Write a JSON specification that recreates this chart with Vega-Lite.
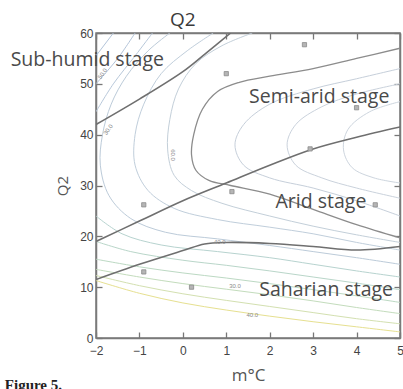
{
  "$schema": "https://vega.github.io/schema/vega-lite/v6.json",
  "width": 304,
  "height": 305,
  "autosize": {"type": "none"},
  "padding": {"left": 96, "top": 33, "right": 3, "bottom": 51},
  "background": "white",
  "config": {"view": {"stroke": "#7a7a7a", "strokeWidth": 1.5}, "font": "Liberation Sans"},
  "datasets": {
    "contours": [
      {"id":"U1","k":1,"x":-2,"y":55.5},{"id":"U1","k":2,"x":-1.6,"y":60},
      {"id":"U2","k":1,"x":-2,"y":50},{"id":"U2","k":2,"x":-1.5,"y":55},{"id":"U2","k":3,"x":-1.1,"y":60},
      {"id":"W4a","k":1,"x":-2,"y":44.5},{"id":"W4a","k":2,"x":-1.6,"y":50},{"id":"W4a","k":3,"x":-1.1,"y":55.5},{"id":"W4a","k":4,"x":-0.7,"y":60},
      {"id":"W3","k":1,"x":-0.3,"y":60},{"id":"W3","k":2,"x":-0.8,"y":56.5},{"id":"W3","k":3,"x":-1.3,"y":51.5},{"id":"W3","k":4,"x":-1.65,"y":46},{"id":"W3","k":5,"x":-1.85,"y":40},{"id":"W3","k":6,"x":-1.9,"y":34},{"id":"W3","k":7,"x":-1.7,"y":28},{"id":"W3","k":8,"x":-1.2,"y":23.5},{"id":"W3","k":9,"x":-0.4,"y":20.8},{"id":"W3","k":10,"x":0.8,"y":19.5},{"id":"W3","k":11,"x":2,"y":18.2},{"id":"W3","k":12,"x":3,"y":17},{"id":"W3","k":13,"x":4,"y":15.8},{"id":"W3","k":14,"x":5,"y":14.5},
      {"id":"W2","k":1,"x":0.7,"y":60},{"id":"W2","k":2,"x":0.1,"y":56.5},{"id":"W2","k":3,"x":-0.5,"y":52},{"id":"W2","k":4,"x":-0.9,"y":46},{"id":"W2","k":5,"x":-1.1,"y":40},{"id":"W2","k":6,"x":-1.1,"y":34},{"id":"W2","k":7,"x":-0.8,"y":29},{"id":"W2","k":8,"x":-0.2,"y":25.5},{"id":"W2","k":9,"x":0.8,"y":23.3},{"id":"W2","k":10,"x":2,"y":21.8},{"id":"W2","k":11,"x":3,"y":20.5},{"id":"W2","k":12,"x":4,"y":18.8},{"id":"W2","k":13,"x":5,"y":17.3},
      {"id":"W1","k":1,"x":1.6,"y":60},{"id":"W1","k":2,"x":0.9,"y":57.5},{"id":"W1","k":3,"x":0.3,"y":54},{"id":"W1","k":4,"x":-0.1,"y":49},{"id":"W1","k":5,"x":-0.3,"y":43},{"id":"W1","k":6,"x":-0.35,"y":37},{"id":"W1","k":7,"x":-0.2,"y":32},{"id":"W1","k":8,"x":0.2,"y":29},{"id":"W1","k":9,"x":0.9,"y":26.5},{"id":"W1","k":10,"x":2,"y":24},{"id":"W1","k":11,"x":3,"y":22},{"id":"W1","k":12,"x":4,"y":20.3},{"id":"W1","k":13,"x":5,"y":18.8},
      {"id":"W4b","k":1,"x":-2,"y":24},{"id":"W4b","k":2,"x":-1.4,"y":20.5},{"id":"W4b","k":3,"x":-0.5,"y":18.3},{"id":"W4b","k":4,"x":0.8,"y":17},{"id":"W4b","k":5,"x":2,"y":15.8},{"id":"W4b","k":6,"x":3,"y":14.5},{"id":"W4b","k":7,"x":4,"y":13.2},{"id":"W4b","k":8,"x":5,"y":12},
      {"id":"L5","k":1,"x":-2,"y":19},{"id":"L5","k":2,"x":-1.2,"y":17},{"id":"L5","k":3,"x":0,"y":15.3},{"id":"L5","k":4,"x":1,"y":14.3},{"id":"L5","k":5,"x":2,"y":13.2},{"id":"L5","k":6,"x":3,"y":12},{"id":"L5","k":7,"x":4,"y":10.8},{"id":"L5","k":8,"x":5,"y":9.5},
      {"id":"L4","k":1,"x":-2,"y":15.5},{"id":"L4","k":2,"x":-1,"y":14},{"id":"L4","k":3,"x":0,"y":12.8},{"id":"L4","k":4,"x":1,"y":11.8},{"id":"L4","k":5,"x":2,"y":10.7},{"id":"L4","k":6,"x":3,"y":9.5},{"id":"L4","k":7,"x":4,"y":8.3},{"id":"L4","k":8,"x":5,"y":7},
      {"id":"L3","k":1,"x":-2,"y":13.5},{"id":"L3","k":2,"x":-1,"y":12},{"id":"L3","k":3,"x":0,"y":10.7},{"id":"L3","k":4,"x":1,"y":9.6},{"id":"L3","k":5,"x":2,"y":8.5},{"id":"L3","k":6,"x":3,"y":7.3},{"id":"L3","k":7,"x":4,"y":6},{"id":"L3","k":8,"x":5,"y":4.8},
      {"id":"L2","k":1,"x":-2,"y":12.3},{"id":"L2","k":2,"x":-1,"y":10.3},{"id":"L2","k":3,"x":0,"y":8.7},{"id":"L2","k":4,"x":1,"y":7.4},{"id":"L2","k":5,"x":2,"y":6.2},{"id":"L2","k":6,"x":3,"y":5},{"id":"L2","k":7,"x":4,"y":3.8},{"id":"L2","k":8,"x":5,"y":2.8},
      {"id":"L1","k":1,"x":-2,"y":11.3},{"id":"L1","k":2,"x":-1,"y":8.8},{"id":"L1","k":3,"x":0,"y":6.9},{"id":"L1","k":4,"x":1,"y":5.5},{"id":"L1","k":5,"x":2,"y":4.3},{"id":"L1","k":6,"x":3,"y":3.2},{"id":"L1","k":7,"x":4,"y":2.2},{"id":"L1","k":8,"x":5,"y":1.2},
      {"id":"I1","k":1,"x":5,"y":53},{"id":"I1","k":2,"x":4,"y":51},{"id":"I1","k":3,"x":3,"y":49},{"id":"I1","k":4,"x":2,"y":46},{"id":"I1","k":5,"x":1.4,"y":42},{"id":"I1","k":6,"x":1.2,"y":38},{"id":"I1","k":7,"x":1.4,"y":34},{"id":"I1","k":8,"x":2,"y":31.5},{"id":"I1","k":9,"x":3,"y":29.5},{"id":"I1","k":10,"x":4,"y":27},{"id":"I1","k":11,"x":5,"y":24},
      {"id":"I2","k":1,"x":5,"y":50},{"id":"I2","k":2,"x":4,"y":48},{"id":"I2","k":3,"x":3.2,"y":45.5},{"id":"I2","k":4,"x":2.6,"y":42},{"id":"I2","k":5,"x":2.4,"y":38},{"id":"I2","k":6,"x":2.6,"y":34},{"id":"I2","k":7,"x":3.2,"y":31.5},{"id":"I2","k":8,"x":4,"y":29.5},{"id":"I2","k":9,"x":5,"y":27.5},
      {"id":"I3","k":1,"x":5,"y":46.5},{"id":"I3","k":2,"x":4.3,"y":44.5},{"id":"I3","k":3,"x":3.8,"y":41},{"id":"I3","k":4,"x":3.7,"y":37},{"id":"I3","k":5,"x":3.9,"y":33.5},{"id":"I3","k":6,"x":4.4,"y":31.5},{"id":"I3","k":7,"x":5,"y":30.5}
    ],
    "medium": [
      {"id":"M","k":1,"x":5,"y":57},{"id":"M","k":2,"x":4,"y":55},{"id":"M","k":3,"x":3,"y":53},{"id":"M","k":4,"x":2,"y":51.5},{"id":"M","k":5,"x":1.3,"y":50.3},{"id":"M","k":6,"x":0.8,"y":48.5},{"id":"M","k":7,"x":0.45,"y":45},{"id":"M","k":8,"x":0.25,"y":40},{"id":"M","k":9,"x":0.2,"y":36},{"id":"M","k":10,"x":0.3,"y":33},{"id":"M","k":11,"x":0.6,"y":31},{"id":"M","k":12,"x":1.1,"y":30},{"id":"M","k":13,"x":2,"y":28.3},{"id":"M","k":14,"x":3,"y":25.3},{"id":"M","k":15,"x":4,"y":22.3},{"id":"M","k":16,"x":5,"y":19.7}
    ],
    "bounds": [
      {"id":"B1","k":1,"x":-2,"y":42},{"id":"B1","k":2,"x":-1,"y":47},{"id":"B1","k":3,"x":0,"y":52.4},{"id":"B1","k":4,"x":0.5,"y":55.8},{"id":"B1","k":5,"x":1.1,"y":60},
      {"id":"B2","k":1,"x":-2,"y":19},{"id":"B2","k":2,"x":-1,"y":23},{"id":"B2","k":3,"x":0,"y":27},{"id":"B2","k":4,"x":1,"y":30.5},{"id":"B2","k":5,"x":2,"y":34},{"id":"B2","k":6,"x":3,"y":37.2},{"id":"B2","k":7,"x":4,"y":39.5},{"id":"B2","k":8,"x":5,"y":41.5},
      {"id":"B3","k":1,"x":-2,"y":11.5},{"id":"B3","k":2,"x":-1,"y":14.5},{"id":"B3","k":3,"x":0,"y":17.2},{"id":"B3","k":4,"x":0.5,"y":18.5},{"id":"B3","k":5,"x":1,"y":18.8},{"id":"B3","k":6,"x":2,"y":18.6},{"id":"B3","k":7,"x":3,"y":18},{"id":"B3","k":8,"x":4,"y":17.3},{"id":"B3","k":9,"x":5,"y":18}
    ],
    "points": [
      {"x":-0.9,"y":26.2},{"x":-0.9,"y":13},{"x":0.2,"y":10},{"x":1,"y":52},{"x":1.13,"y":28.8},{"x":2.8,"y":57.7},{"x":4,"y":45.3},{"x":4.43,"y":26.2},{"x":2.93,"y":37.2}
    ],
    "stages": [
      {"label":"Sub-humid stage","x":-2.2,"y":54.7},
      {"label":"Semi-arid stage","x":3.14,"y":47.4},
      {"label":"Arid stage","x":3.18,"y":26.8},
      {"label":"Saharian stage","x":3.3,"y":9.4}
    ],
    "clabels": [
      {"t":"50.0","x":-1.85,"y":52,"a":-55},
      {"t":"30.0","x":-1.72,"y":41,"a":-55},
      {"t":"60.0","x":-0.22,"y":36,"a":90},
      {"t":"40.0","x":0.85,"y":18.8,"a":0},
      {"t":"30.0","x":1.2,"y":10.3,"a":0},
      {"t":"40.0","x":1.6,"y":4.6,"a":0}
    ]
  },
  "layer": [
    {
      "data": {"name": "contours"},
      "mark": {"type": "line", "strokeWidth": 1, "interpolate": "catmull-rom", "clip": true},
      "encoding": {
        "x": {"field": "x", "type": "quantitative", "scale": {"domain": [-2, 5], "nice": false, "zero": false},
          "axis": {"orient": "bottom", "values": [-2,-1,0,1,2,3,4,5], "title": "m°C", "grid": false, "tickSize": -6, "tickColor": "#777", "tickWidth": 1.3, "labelPadding": 13, "labelColor": "#444", "labelFontSize": 12, "labelFlush": false, "domainColor": "#7a7a7a", "domainWidth": 1.5, "titleFontSize": 17, "titleColor": "#555", "titleFontWeight": "normal", "titlePadding": 11, "titleFont": "Open Sans"}},
        "y": {"field": "y", "type": "quantitative", "scale": {"domain": [0, 60], "nice": false, "zero": false},
          "axis": {"orient": "left", "values": [0,10,20,30,40,50,60], "title": "Q2", "grid": false, "tickSize": -6, "tickColor": "#777", "tickWidth": 1.3, "labelPadding": 9, "labelColor": "#444", "labelFontSize": 12, "labelFlush": false, "domainColor": "#7a7a7a", "domainWidth": 1.5, "titleFontSize": 15, "titleColor": "#555", "titleFontWeight": "normal", "titlePadding": 9, "titleFont": "Open Sans"}},
        "detail": {"field": "id"},
        "order": {"field": "k", "type": "quantitative"},
        "color": {"field": "id", "type": "nominal", "legend": null,
          "scale": {"domain": ["U1","U2","W4a","W3","W2","W1","I1","I2","I3","W4b","L5","L4","L3","L2","L1"],
                    "range": ["#b3c4d9","#b3c4d9","#b8c8da","#bccbd9","#c0cedb","#c3cfd9","#c6cfda","#cad2dc","#cdd5de","#b7d3cf","#b9d6c9","#bcd9c3","#c3dcbc","#d3e0b0","#e6e090"]}}
      }
    },
    {
      "data": {"name": "medium"},
      "mark": {"type": "line", "strokeWidth": 1.3, "color": "#8c8c8c", "interpolate": "catmull-rom", "clip": true},
      "encoding": {
        "x": {"field": "x", "type": "quantitative",
          "axis": {"orient": "top", "values": [-2,-1,0,1,2,3,4,5], "labels": false, "title": null, "grid": false, "tickSize": -6, "tickColor": "#777", "tickWidth": 1.3, "domainColor": "#7a7a7a", "domainWidth": 1.5}},
        "y": {"field": "y", "type": "quantitative",
          "axis": {"orient": "right", "values": [0,10,20,30,40,50,60], "labels": false, "title": null, "grid": false, "tickSize": -6, "tickColor": "#777", "tickWidth": 1.3, "domainColor": "#7a7a7a", "domainWidth": 1.5}},
        "detail": {"field": "id"},
        "order": {"field": "k", "type": "quantitative"}
      }
    },
    {
      "data": {"name": "bounds"},
      "mark": {"type": "line", "strokeWidth": 1.6, "color": "#6f6f6f", "interpolate": "catmull-rom", "clip": true},
      "encoding": {
        "x": {"field": "x", "type": "quantitative", "axis": null},
        "y": {"field": "y", "type": "quantitative", "axis": null},
        "detail": {"field": "id"},
        "order": {"field": "k", "type": "quantitative"}
      }
    },
    {
      "data": {"name": "points"},
      "mark": {"type": "point", "shape": "square", "size": 18, "filled": true, "color": "#b5b5b5", "stroke": "#8a8a8a", "strokeWidth": 0.8, "opacity": 1},
      "encoding": {
        "x": {"field": "x", "type": "quantitative", "axis": null},
        "y": {"field": "y", "type": "quantitative", "axis": null}
      }
    },
    {
      "data": {"name": "clabels"},
      "mark": {"type": "text", "fontSize": 6, "color": "#8a8a8a", "baseline": "middle", "align": "center"},
      "encoding": {
        "x": {"field": "x", "type": "quantitative", "axis": null},
        "y": {"field": "y", "type": "quantitative", "axis": null},
        "text": {"field": "t"},
        "angle": {"field": "a", "type": "quantitative", "scale": null}
      }
    },
    {
      "mark": {"type": "rule", "color": "#2a2a2a", "strokeWidth": 3},
      "encoding": {"x": {"datum": 0, "type": "quantitative", "axis": null}}
    },
    {
      "data": {"name": "stages"},
      "mark": {"type": "text", "font": "Open Sans", "fontSize": 19.5, "color": "#4a4a4a", "baseline": "middle", "align": "center", "clip": false},
      "encoding": {
        "x": {"field": "x", "type": "quantitative", "axis": null},
        "y": {"field": "y", "type": "quantitative", "axis": null},
        "text": {"field": "label"}
      }
    },
    {
      "data": {"values": [{"t": "Q2", "x": 0, "y": 60}]},
      "mark": {"type": "text", "font": "Open Sans", "fontSize": 19, "color": "#3a3a3a", "baseline": "bottom", "align": "center", "dy": -3, "clip": false},
      "encoding": {
        "x": {"field": "x", "type": "quantitative", "axis": null},
        "y": {"field": "y", "type": "quantitative", "axis": null},
        "text": {"field": "t"}
      }
    },
    {
      "data": {"values": [{"t": "Figure 5.", "x": -4.1, "y": -10.2}]},
      "mark": {"type": "text", "font": "Liberation Serif", "fontSize": 15, "fontWeight": "bold", "color": "#222", "baseline": "alphabetic", "align": "left", "clip": false},
      "encoding": {
        "x": {"field": "x", "type": "quantitative", "axis": null},
        "y": {"field": "y", "type": "quantitative", "axis": null},
        "text": {"field": "t"}
      }
    }
  ],
  "resolve": {"axis": {"x": "independent", "y": "independent"}}
}
